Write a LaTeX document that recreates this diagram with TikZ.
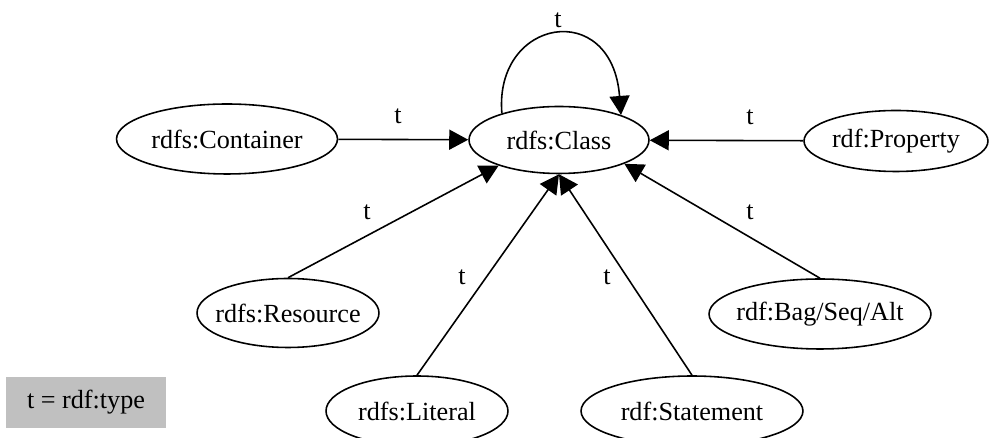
\documentclass[tikz,border=0pt]{standalone}
\usepackage{fontspec}
\setmainfont{Liberation Serif}
\usetikzlibrary{shapes.geometric,arrows.meta}

% 文字幅を楕円の大きさに含めない
\newcommand{\rname}[1]{\makebox[0pt]{#1}}
\definecolor{keygray}{RGB}{192,192,192}

\begin{document}
\begin{tikzpicture} [x = 0.02cm, y = -0.02cm,
    every node/.style = {font=\fontsize{14.9}{17}\selectfont},
    cnode/.style = {draw, ellipse, line width=0.9pt, inner sep=0pt},
    typearrow/.style = {line width=0.9pt, -{Triangle[length=0.38cm, width=0.4cm]}},
    lbl/.style = {inner sep=0pt}]
      % 枠
      \useasboundingbox (0,0) rectangle (992,438);

      % クラス
      \node [cnode, minimum width=3.6cm, minimum height=1.34cm] (cls) at (559,140) {\rname{rdfs:Class}};
      \node [cnode, minimum width=4.42cm, minimum height=1.4cm] (cont) at (227,139) {\rname{rdfs:Container}};
      \node [cnode, minimum width=3.68cm, minimum height=1.22cm] (prop) at (896,141) {\rname{rdf:Property}};
      \node [cnode, minimum width=3.64cm, minimum height=1.38cm] (res) at (288,313) {\rname{rdfs:Resource}};
      \node [cnode, minimum width=4.44cm, minimum height=1.4cm] (bag) at (820,314) {\rname{rdf:Bag/Seq/Alt}};
      \node [cnode, minimum width=3.64cm, minimum height=1.4cm] (lit) at (417,411) {\rname{rdfs:Literal}};
      \node [cnode, minimum width=4.44cm, minimum height=1.4cm] (stmt) at (692,411) {\rname{rdf:Statement}};

      % 凡例
      \node [fill=keygray, minimum width=3.2cm, minimum height=1.02cm] (key) at (86,402.5) {t = rdf:type};

      % rdf:type
      \draw [typearrow] (cls.155) .. controls (494,18) and (612,-2) .. (cls.22);
      \draw [typearrow] (cont) -- (cls);
      \draw [typearrow] (prop) -- (cls);
      \draw [typearrow] (res.north) -- (cls.203);
      \draw [typearrow] (bag.north) -- (cls.340);
      \draw [typearrow] (lit.north) -- (cls.south);
      \draw [typearrow] (stmt.north) -- (cls.south);

      % ラベル
      \node [lbl] (lself) at (558,20) {t};
      \node [lbl] (lcont) at (398,116) {t};
      \node [lbl] (lprop) at (750,117) {t};
      \node [lbl] (lres) at (367,212) {t};
      \node [lbl] (lbag) at (750,212) {t};
      \node [lbl] (llit) at (462,277) {t};
      \node [lbl] (lstmt) at (607,277) {t};
    \end{tikzpicture}
\end{document}
